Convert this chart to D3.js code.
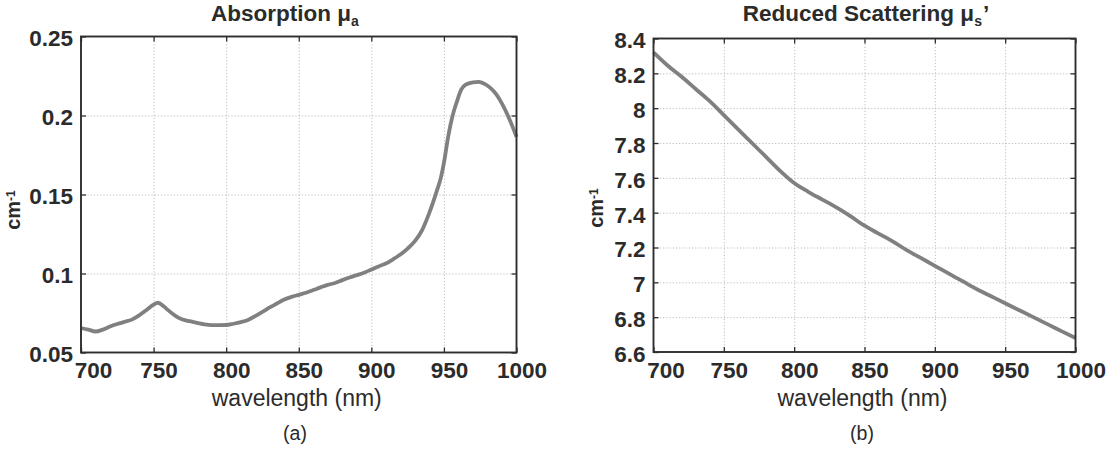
<!DOCTYPE html>
<html>
<head>
<meta charset="utf-8">
<script src="https://cdn.jsdelivr.net/npm/d3@7/dist/d3.min.js"></script>
<style>
  html, body { margin: 0; padding: 0; background: #fff; }
  svg { display: block; }
  text { font-family: "Liberation Sans", Arial, Helvetica, sans-serif; fill: #2b2b2b; }
</style>
</head>
<body>
<svg id="chart" width="1114" height="450"></svg>
<script>
// ---------- data ----------
const xTicks = [700, 750, 800, 850, 900, 950, 1000];

const absWavelength = [700,705,710,715,720,725,730,735,740,745,750,753,757,760,765,770,775,780,785,790,795,800,805,810,815,820,825,830,835,840,845,850,855,860,865,870,875,880,885,890,895,900,905,910,915,920,925,930,935,940,945,948,950,953,956,959,962,965,970,974,978,982,986,990,995,1000];
const absValues = [0.0655,0.0645,0.0633,0.0645,0.0664,0.068,0.0694,0.0708,0.0735,0.0768,0.0803,0.0815,0.0792,0.0768,0.0732,0.0709,0.0698,0.0688,0.0678,0.0673,0.0673,0.0674,0.0682,0.0692,0.0706,0.073,0.0757,0.0785,0.081,0.0835,0.0852,0.0865,0.0878,0.0895,0.0912,0.0928,0.094,0.0958,0.0975,0.099,0.1005,0.1025,0.1045,0.1063,0.109,0.112,0.1158,0.1205,0.1275,0.1385,0.152,0.161,0.17,0.187,0.2,0.209,0.2165,0.2195,0.221,0.2213,0.22,0.2175,0.2135,0.2075,0.198,0.1865];
const absTicks = [0.05, 0.1, 0.15, 0.2, 0.25];
const absTickLabels = ["0.05", "0.1", "0.15", "0.2", "0.25"];

const scatWavelength = [700,710,720,730,740,750,760,770,780,790,800,810,820,830,840,850,860,870,880,890,900,910,920,930,940,950,960,970,980,990,1000];
const scatValues = [8.32,8.245,8.18,8.11,8.04,7.96,7.88,7.80,7.72,7.64,7.57,7.52,7.475,7.43,7.38,7.325,7.28,7.235,7.185,7.14,7.095,7.05,7.005,6.96,6.92,6.88,6.84,6.80,6.76,6.72,6.68];
const scatTicks = [6.6, 6.8, 7, 7.2, 7.4, 7.6, 7.8, 8, 8.2, 8.4];
const scatTickLabels = ["6.6", "6.8", "7", "7.2", "7.4", "7.6", "7.8", "8", "8.2", "8.4"];

// ---------- drawing ----------
const svg = d3.select("#chart");
const AX = "#2e2e2e";

function panel(cfg) {
  const x = d3.scaleLinear().domain([700, 1000]).range([cfg.x0, cfg.x1]);
  const y = d3.scaleLinear().domain(cfg.yDomain).range([cfg.y1, cfg.y0]);
  const g = svg.append("g");
  const h = cfg.y1 - cfg.y0, w = cfg.x1 - cfg.x0;

  // grid
  const gx = g.append("g").attr("transform", `translate(0,${cfg.y1})`)
    .call(d3.axisBottom(x).tickValues(xTicks.slice(1, -1)).tickSize(-h).tickFormat(""));
  const gy = g.append("g").attr("transform", `translate(${cfg.x0},0)`)
    .call(d3.axisLeft(y).tickValues(cfg.yTicks.slice(1, -1)).tickSize(-w).tickFormat(""));
  [gx, gy].forEach(s => {
    s.select(".domain").remove();
    s.selectAll(".tick line").attr("stroke", "#b5b5b5").attr("stroke-width", 0.9).attr("stroke-dasharray", "1.2,2");
  });

  // line
  const pts = cfg.xs.map((d, i) => [d, cfg.ys[i]]);
  g.append("path").datum(pts)
    .attr("fill", "none").attr("stroke", "#808080").attr("stroke-width", 3.8)
    .attr("stroke-linejoin", "round").attr("stroke-linecap", "butt")
    .attr("d", d3.line().x(d => x(d[0])).y(d => y(d[1])).curve(d3.curveMonotoneX));

  // axes with inward ticks
  const fmtY = v => cfg.yLabels[cfg.yTicks.indexOf(v)];
  const bottom = g.append("g").attr("transform", `translate(0,${cfg.y1})`)
    .call(d3.axisBottom(x).tickValues(xTicks).tickSizeInner(-5).tickSizeOuter(0).tickPadding(10).tickFormat(d3.format("d")));
  const top = g.append("g").attr("transform", `translate(0,${cfg.y0})`)
    .call(d3.axisTop(x).tickValues(xTicks).tickSizeInner(-5).tickSizeOuter(0).tickFormat(""));
  const left = g.append("g").attr("transform", `translate(${cfg.x0},0)`)
    .call(d3.axisLeft(y).tickValues(cfg.yTicks).tickSizeInner(-5).tickSizeOuter(0).tickPadding(8).tickFormat(fmtY));
  const right = g.append("g").attr("transform", `translate(${cfg.x1},0)`)
    .call(d3.axisRight(y).tickValues(cfg.yTicks).tickSizeInner(-5).tickSizeOuter(0).tickFormat(""));
  [bottom, top, left, right].forEach(s => {
    s.select(".domain").remove();
    s.selectAll(".tick line").attr("stroke", AX).attr("stroke-width", 1.3);
  });
  bottom.selectAll(".tick text")
    .attr("fill", "#2b2b2b").attr("font-size", 22.5).attr("font-weight", "bold")
    .attr("font-family", "Liberation Sans, Arial, sans-serif")
    .attr("dx", (d, i) => i === 0 ? 12 : 5);
  left.selectAll(".tick text")
    .attr("fill", "#2b2b2b").attr("font-size", 22.5).attr("font-weight", "bold")
    .attr("font-family", "Liberation Sans, Arial, sans-serif")
    .attr("dy", "0.42em");

  // box
  g.append("rect").attr("x", cfg.x0).attr("y", cfg.y0).attr("width", w).attr("height", h)
    .attr("fill", "none").attr("stroke", AX).attr("stroke-width", 1.9);

  // title
  const t = g.append("text").attr("x", cfg.titleX).attr("y", 21)
    .attr("text-anchor", "middle").attr("font-size", 22.5).attr("font-weight", "bold");
  t.append("tspan").text(cfg.title);
  t.append("tspan").attr("font-size", 14).attr("dy", 5).text(cfg.sub);
  if (cfg.prime) t.append("tspan").attr("dy", -5).attr("dx", 1).text(cfg.prime);

  // y label
  const yl = g.append("text").attr("transform", `translate(${cfg.ylabX},${cfg.ylabY}) rotate(-90)`)
    .attr("text-anchor", "middle").attr("font-size", 20).attr("font-weight", "bold");
  yl.append("tspan").text("cm");
  yl.append("tspan").attr("font-size", 12).attr("dy", -5).text("-1");

  // x label
  g.append("text").attr("x", (cfg.x0 + cfg.x1) / 2 - 2).attr("y", 405.5)
    .attr("text-anchor", "middle").attr("font-size", 23).text("wavelength (nm)");

  // panel caption
  g.append("text").attr("x", cfg.capX).attr("y", 440)
    .attr("text-anchor", "middle").attr("font-size", 19.5).text(cfg.caption);
}

panel({
  x0: 81, x1: 516.5, y0: 36.5, y1: 352.5,
  yDomain: [0.05, 0.25], yTicks: absTicks, yLabels: absTickLabels,
  xs: absWavelength, ys: absValues,
  title: "Absorption μ", sub: "a", prime: null, titleX: 285,
  ylabX: 19.5, ylabY: 210, capX: 295, caption: "(a)"
});

panel({
  x0: 653.5, x1: 1075.5, y0: 38.5, y1: 352,
  yDomain: [6.6, 8.4], yTicks: scatTicks, yLabels: scatTickLabels,
  xs: scatWavelength, ys: scatValues,
  title: "Reduced Scattering μ", sub: "s", prime: "’", titleX: 866,
  ylabX: 603, ylabY: 208, capX: 862, caption: "(b)"
});
</script>
</body>
</html>
